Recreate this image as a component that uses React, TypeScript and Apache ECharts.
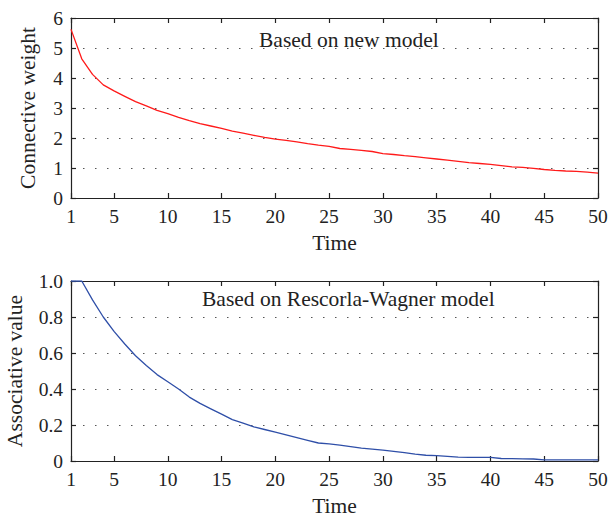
import React, { useEffect, useRef } from "react";
import * as echarts from "echarts";

const timeSteps: number[] = Array.from({ length: 50 }, (_, i) => i + 1);
const xTickValues = [1, 5, 10, 15, 20, 25, 30, 35, 40, 45, 50];

const newModelWeights = [
  5.62, 4.64, 4.12, 3.77, 3.57, 3.39, 3.21, 3.07, 2.92, 2.81,
  2.69, 2.58, 2.48, 2.40, 2.32, 2.23, 2.16, 2.09, 2.02, 1.96,
  1.92, 1.87, 1.81, 1.76, 1.72, 1.65, 1.62, 1.59, 1.55, 1.48,
  1.45, 1.41, 1.38, 1.34, 1.30, 1.26, 1.22, 1.18, 1.15, 1.12,
  1.08, 1.04, 1.02, 0.99, 0.95, 0.92, 0.90, 0.89, 0.86, 0.83,
];

const rwValues = [
  1.0, 1.0, 0.895, 0.80, 0.72, 0.65, 0.585, 0.53, 0.48, 0.44,
  0.40, 0.355, 0.32, 0.29, 0.26, 0.23, 0.21, 0.19, 0.175, 0.16,
  0.145, 0.13, 0.115, 0.10, 0.095, 0.088, 0.08, 0.072, 0.066, 0.06,
  0.054, 0.046, 0.038, 0.032, 0.03, 0.026, 0.022, 0.02, 0.02, 0.02,
  0.014, 0.013, 0.012, 0.011, 0.006, 0.006, 0.006, 0.006, 0.006, 0.006,
];

const FONT = "'Liberation Serif', 'Times New Roman', serif";
const AXIS_COLOR = "#222";
const NAME_SIZE = 21.5;
const TICK_SIZE = 19.5;

function bottomX(gridIndex: number) {
  return {
    type: "value",
    gridIndex,
    min: 1,
    max: 50,
    name: "Time",
    nameLocation: "middle",
    nameGap: 34,
    nameTextStyle: { fontFamily: FONT, fontSize: NAME_SIZE, color: "#222" },
    axisLine: { show: true, onZero: false, lineStyle: { color: AXIS_COLOR, width: 1.2 } },
    axisTick: { show: true, inside: true, length: 5, customValues: xTickValues, lineStyle: { color: AXIS_COLOR, width: 1.2 } },
    axisLabel: { show: true, customValues: xTickValues, margin: 8, fontFamily: FONT, fontSize: TICK_SIZE, color: "#222" },
    splitLine: { show: false },
  };
}

function topX(gridIndex: number) {
  return {
    type: "value",
    gridIndex,
    position: "top",
    min: 1,
    max: 50,
    axisLine: { show: true, onZero: false, lineStyle: { color: AXIS_COLOR, width: 1.2 } },
    axisTick: { show: true, inside: true, length: 5, customValues: xTickValues, lineStyle: { color: AXIS_COLOR, width: 1.2 } },
    axisLabel: { show: false },
    splitLine: { show: false },
  };
}

function leftY(gridIndex: number, max: number, interval: number, name: string, nameGap: number, fmt: (v: number) => string) {
  return {
    type: "value",
    gridIndex,
    min: 0,
    max,
    interval,
    name,
    nameLocation: "middle",
    nameGap,
    nameTextStyle: { fontFamily: FONT, fontSize: NAME_SIZE, color: "#222" },
    axisLine: { show: true, onZero: false, lineStyle: { color: AXIS_COLOR, width: 1.2 } },
    axisTick: { show: true, inside: true, length: 5, lineStyle: { color: AXIS_COLOR, width: 1.2 } },
    axisLabel: { show: true, margin: 8, fontFamily: FONT, fontSize: TICK_SIZE, color: "#222", formatter: fmt },
    splitLine: { show: true, lineStyle: { color: "#555", width: 1, type: [1.5, 10.5] } },
  };
}

function rightY(gridIndex: number, max: number, interval: number) {
  return {
    type: "value",
    gridIndex,
    position: "right",
    min: 0,
    max,
    interval,
    axisLine: { show: true, onZero: false, lineStyle: { color: AXIS_COLOR, width: 1.2 } },
    axisTick: { show: true, inside: true, length: 5, lineStyle: { color: AXIS_COLOR, width: 1.2 } },
    axisLabel: { show: false },
    splitLine: { show: false },
  };
}

export default function App() {
  const ref = useRef<HTMLDivElement>(null);
  useEffect(() => {
    if (!ref.current) return;
    const chart = echarts.init(ref.current, undefined, { renderer: "svg" });
    chart.setOption({
      animation: false,
      backgroundColor: "#fff",
      grid: [
        { left: 71, right: 11, top: 18, height: 180, containLabel: false, outerBoundsMode: "none" },
        { left: 71, right: 11, top: 281, height: 180, containLabel: false, outerBoundsMode: "none" },
      ],
      xAxis: [bottomX(0), topX(0), bottomX(1), topX(1)],
      yAxis: [
        leftY(0, 6, 1, "Connective weight", 32, (v: number) => String(v)),
        rightY(0, 6, 1),
        leftY(1, 1, 0.2, "Associative value", 45, (v: number) => (v === 0 ? "0" : v.toFixed(1))),
        rightY(1, 1, 0.2),
      ],
      graphic: [
        {
          type: "text",
          left: 259,
          top: 29,
          style: { text: "Based on new model", fontFamily: FONT, fontSize: NAME_SIZE, fill: "#222" },
        },
        {
          type: "text",
          left: 202,
          top: 288,
          style: { text: "Based on Rescorla-Wagner model", fontFamily: FONT, fontSize: NAME_SIZE, fill: "#222" },
        },
      ],
      series: [
        {
          type: "line",
          xAxisIndex: 0,
          yAxisIndex: 0,
          data: timeSteps.map((t, i) => [t, newModelWeights[i]]),
          showSymbol: false,
          lineStyle: { color: "#ff1a1a", width: 1.3 },
        },
        {
          type: "line",
          xAxisIndex: 2,
          yAxisIndex: 2,
          data: timeSteps.map((t, i) => [t, rwValues[i]]),
          showSymbol: false,
          lineStyle: { color: "#2f4fa8", width: 1.3 },
        },
      ],
    });
    return () => chart.dispose();
  }, []);
  return <div ref={ref} style={{ width: 609, height: 520, position: "absolute", left: 0, top: 0 }} />;
}
